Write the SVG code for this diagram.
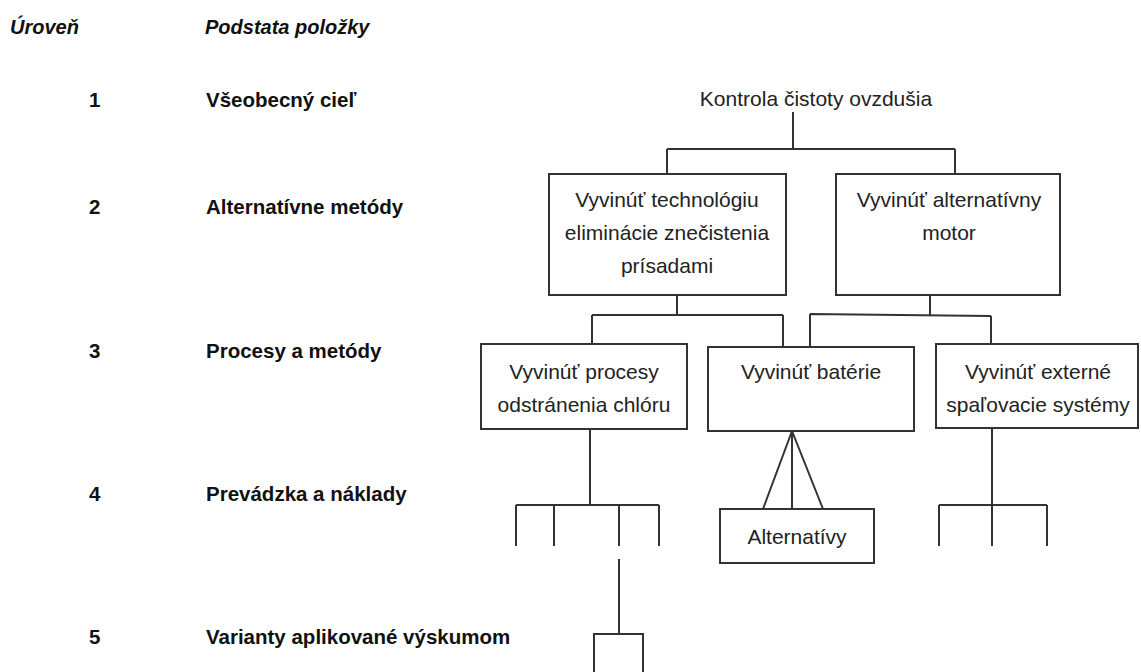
<svg xmlns="http://www.w3.org/2000/svg" width="1141" height="672" viewBox="0 0 1141 672">
  <style>
    .hdr { font-family: "Liberation Sans", Arial, sans-serif; font-size: 20px; font-weight: bold; font-style: italic; fill: #111; }
    .lvl { font-family: "Liberation Sans", Arial, sans-serif; font-size: 20.5px; font-weight: bold; fill: #111; }
    .lbl { font-family: "Liberation Sans", Arial, sans-serif; font-size: 21px; fill: #222; text-anchor: middle; }
    .box { fill: #fff; stroke: #333; stroke-width: 2; }
    .ln { fill: none; stroke: #333; stroke-width: 2; }
  </style>
  <rect width="1141" height="672" fill="#fff"/>

  <g id="legend">
    <text class="hdr" x="10" y="34">Úroveň</text>
    <text class="hdr" x="205" y="34">Podstata položky</text>
    <text class="lvl" x="89" y="107">1</text>
    <text class="lvl" x="206" y="107">Všeobecný cieľ</text>
    <text class="lvl" x="89" y="214">2</text>
    <text class="lvl" x="206" y="214">Alternatívne metódy</text>
    <text class="lvl" x="89" y="358">3</text>
    <text class="lvl" x="206" y="358">Procesy a metódy</text>
    <text class="lvl" x="89" y="501">4</text>
    <text class="lvl" x="206" y="501">Prevádzka a náklady</text>
    <text class="lvl" x="89" y="644">5</text>
    <text class="lvl" x="206" y="644">Varianty aplikované výskumom</text>
  </g>

  <g id="connectors">
    <path class="ln" d="M793 112 V149 M667 149 H955 M667 149 V174 M955 149 V174"/>
    <path class="ln" d="M677 295 V315 M592 315 H783 M592 315 V344 M783 315 V347"/>
    <path class="ln" d="M930 295 V315 M810 314 L991 316 M810 314 V347 M991 316 V344"/>
    <path class="ln" d="M590 429 V505 M516 505 H659 M516 505 V546 M554 505 V546 M619 505 V546 M659 505 V546"/>
    <path class="ln" d="M619 559 V634"/>
    <path class="ln" d="M792 431 L763 509 M792 431 V509 M792 431 L823 509"/>
    <path class="ln" d="M992 428 V505 M939 505 H1047 M939 505 V546 M992 505 V546 M1047 505 V546"/>
  </g>

  <g id="n-root">
    <text class="lbl" x="816" y="106">Kontrola čistoty ovzdušia</text>
  </g>
  <g id="n-technologia">
    <rect class="box" x="549" y="174" width="237" height="121"/>
    <text class="lbl" x="667" y="207">Vyvinúť technológiu</text>
    <text class="lbl" x="667" y="240">eliminácie znečistenia</text>
    <text class="lbl" x="667" y="273">prísadami</text>
  </g>
  <g id="n-motor">
    <rect class="box" x="836" y="174" width="224" height="121"/>
    <text class="lbl" x="949" y="207">Vyvinúť alternatívny</text>
    <text class="lbl" x="949" y="240">motor</text>
  </g>
  <g id="n-chlor">
    <rect class="box" x="481" y="344" width="206" height="85"/>
    <text class="lbl" x="584" y="379">Vyvinúť procesy</text>
    <text class="lbl" x="584" y="412">odstránenia chlóru</text>
  </g>
  <g id="n-baterie">
    <rect class="box" x="708" y="347" width="206" height="84"/>
    <text class="lbl" x="811" y="379">Vyvinúť batérie</text>
  </g>
  <g id="n-externe">
    <rect class="box" x="936" y="344" width="202" height="84"/>
    <text class="lbl" x="1038" y="379">Vyvinúť externé</text>
    <text class="lbl" x="1038" y="412">spaľovacie systémy</text>
  </g>
  <g id="n-alternativy">
    <rect class="box" x="720" y="509" width="154" height="54"/>
    <text class="lbl" x="797" y="544">Alternatívy</text>
  </g>
  <g id="n-variant">
    <path class="ln" d="M594 672 V634 H643 V672"/>
  </g>
</svg>
